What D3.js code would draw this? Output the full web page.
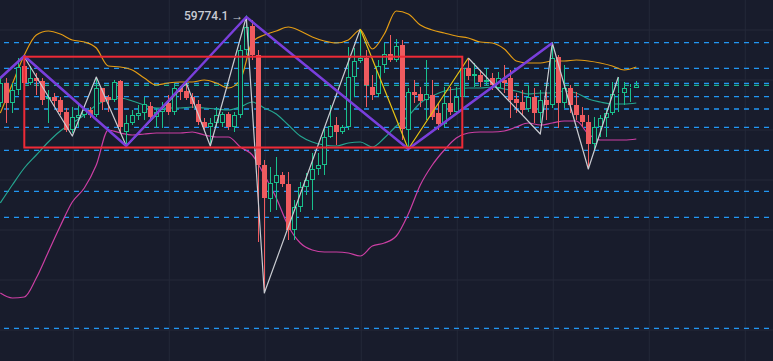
<!DOCTYPE html>
<html><head><meta charset="utf-8">
<script src="https://cdn.jsdelivr.net/npm/d3@7"></script>
<style>html,body{margin:0;padding:0;background:#181c2c;overflow:hidden}svg{display:block}</style>
</head><body><svg id="c" width="773" height="361"></svg>
<script>
// ---- candle data (index = bar number) ----
const opens  = [58020,58420,58020,58280,58760,58420,58520,58460,58100,58140,58080,57840,57480,57720,57780,57880,57780,58320,58140,58080,58460,57440,57620,57760,57820,57960,57740,57840,58020,57840,58320,58260,58140,58000,57640,57540,57620,57620,57800,57540,57780,59080,59560,58980,56780,56100,56420,56580,56400,55480,55940,56340,56480,56700,56780,57340,57580,57440,57540,58540,58860,58920,58340,58200,58780,59000,58880,59180,57480,58240,58200,58080,58180,57820,57600,58020,57840,58140,58720,58560,58580,58440,58520,58320,58480,58520,58100,58040,57900,58140,57820,58080,57980,58940,58020,58320,57980,57780,57640,57200,57540,57720,57820,58200,58220,58320,58320];
const highs  = [58540,58520,58420,58920,58960,58760,58620,58520,58280,58220,58140,57920,57940,58020,57980,57940,58540,58320,58180,58480,58480,57780,57880,57980,58140,58040,57920,58040,58180,58420,58360,58420,58220,58080,57720,57720,57940,57840,57840,57840,59180,59774.1,59680,59080,56880,56740,56940,56640,56640,56080,56440,56620,57020,57020,57540,57980,57740,57580,59140,59120,59500,59080,58580,58880,59220,59380,59300,59280,58320,58480,58340,58880,58480,58020,58340,58340,58340,58920,58920,58820,58680,58720,58620,58640,58780,58680,58220,58280,58380,58320,58280,58240,59240,58980,58780,58380,58240,57940,57780,57740,57780,57920,58440,58540,58440,58400,58460];
const lows   = [57940,57620,57820,58180,58380,58380,58180,57980,57620,57940,57780,57440,57420,57540,57720,57720,57740,57880,57840,58040,57420,57160,57580,57680,57680,57680,57520,57520,57780,57780,58080,58080,57920,57580,57480,57160,57540,57540,57480,57440,57720,58980,58880,55240,54220,55840,55880,56340,55280,55280,55840,56180,55880,56580,56580,57320,57180,57400,57480,58140,58820,57940,58080,58140,58620,58840,58840,57280,57100,58020,57940,57680,57680,57480,57540,57780,57780,58080,58480,58340,58340,58380,58280,58280,58220,57720,57820,57780,57840,57620,57620,57680,57920,57520,57920,57820,57680,57540,56720,57080,57340,57340,57780,57840,57980,58040,58320];
const closes = [58420,58020,58280,58740,58420,58520,58460,58080,58140,58060,57840,57480,57740,57780,57880,57780,58320,58040,58080,58440,57540,57620,57780,57820,58000,57740,57840,57900,57840,58320,58240,58120,58000,57640,57540,57620,57780,57800,57540,57780,59080,59540,58980,56780,56120,56420,56580,56400,55480,55940,56340,56480,56700,56780,57340,57560,57440,57540,58540,58860,58920,58380,58180,58760,59000,58880,59160,57500,58240,58180,58060,58200,57740,57600,58020,57840,58140,58720,58560,58600,58440,58480,58380,58520,58420,58080,58020,57880,58140,57820,58080,57980,58920,58020,58320,57980,57780,57640,57200,57540,57720,57820,58200,58220,58320,58340,58380];

// ---- Bollinger bands, read every 2 bars ----
const bbIndex  = [0,2,4,6,8,10,12,14,16,18,20,22,24,26,28,30,32,34,36,38,40,42,44,46,48,50,52,54,56,58,60,62,64,66,68,70,72,74,76,78,80,82,84,86,88,90,92,94,96,98,100,102,104,106];
const bbUpper  = [57820,58400,58980,59380,59460,59400,59280,59240,59120,58760,58740,58680,58520,58380,58420,58440,58440,58480,58420,58320,58480,59240,59380,59460,59540,59460,59340,59260,59220,59280,59480,59100,59400,59860,59800,59580,59480,59420,59360,59320,59240,59220,59100,58860,58820,58820,58860,58860,58880,58860,58820,58760,58680,58740];
const bbMiddle = [56020,56380,56720,56980,57240,57460,57620,57780,57980,58080,58120,58060,57980,57920,57920,57920,57940,57920,57900,57880,57940,58040,57920,57800,57580,57360,57240,57180,57160,57220,57240,57140,57320,57560,57760,58020,58160,58260,58300,58320,58320,58340,58300,58260,58200,58220,58220,58260,58220,58100,58040,58000,58000,58020];
const bbLower  = [54220,54120,54140,54520,55040,55560,56040,56320,56780,57480,57420,57380,57400,57420,57420,57420,57440,57380,57340,57340,57140,56980,56580,56120,55560,55220,55080,55040,55040,55020,54960,55160,55220,55360,55800,56380,56780,57080,57320,57420,57440,57440,57460,57540,57620,57580,57620,57660,57660,57400,57280,57280,57280,57300];

// ---- grid / levels ----
const gridPrices = [59500,58500,57500,56500,55500,54500,53500];
const gridIndex  = [12,28,44,60,76,92,108,124];
const blueLevels = [59226,58714,58414,58146,57900,57534,57074,56254,55734,53514];
const tealLevels = [58374];

// ---- zigzags ----
const purpleIdx   = [0,4,21,41,68,92];
const purplePrice = [58520,58960,57160,59740,57100,59220];
const grayAIdx    = [4,12,16,21,31,35,41,44,60];
const grayAPrice  = [58940,57360,58540,57160,58420,57160,59740,54220,59500];
const yellowIdx   = [60,68,78];
const yellowPrice = [59500,57100,58920];
const grayBIdx    = [78,90,92,98,103];
const grayBPrice  = [58920,57400,59220,56700,58540];

// ---- range box ----
const boxIdx   = [4,77];
const boxPrice = [58946,57130];
const peakText = "59774.1 →";

const W = 773, H = 361;
const svg = d3.select("#c");
svg.append("rect").attr("width",W).attr("height",H).attr("fill","#181c2c");

const x = d3.scaleLinear().domain([0,1]).range([0.3,6.3]);
const y = d3.scaleLinear().domain([52860,60080]).range([H,0]);

// grid via axes
const gy = svg.append("g").attr("transform","translate(0,0.5)")
  .call(d3.axisRight(y).tickValues(gridPrices).tickSize(W).tickFormat(""));
const gx = svg.append("g").attr("transform","translate(0.5,0)")
  .call(d3.axisBottom(x).tickValues(gridIndex).tickSize(H).tickFormat(""));
[gy,gx].forEach(g=>{g.select(".domain").remove(); g.selectAll("line").attr("stroke","#242939").attr("stroke-width",1);});

// dashed levels
svg.append("g").selectAll("line").data(blueLevels).join("line")
  .attr("x1",4).attr("x2",W).attr("y1",d=>y(d)).attr("y2",d=>y(d))
  .attr("stroke","#2196f3").attr("stroke-width",1.3).attr("stroke-dasharray","5 5");
svg.append("g").selectAll("line").data(tealLevels).join("line")
  .attr("x1",4).attr("x2",W).attr("y1",d=>y(d)).attr("y2",d=>y(d))
  .attr("stroke","#1fb38e").attr("stroke-width",1.3).attr("stroke-dasharray","5 5");

// bollinger
const band = arr => d3.line().x((d,i)=>x(bbIndex[i])).y(d=>y(d)).curve(d3.curveMonotoneX)(arr);
[[bbUpper,"#e39c14"],[bbMiddle,"#25a48f"],[bbLower,"#cc3fa4"]].forEach(([a,c])=>{
  svg.append("path").attr("d",band(a)).attr("fill","none").attr("stroke",c).attr("stroke-width",1.2);
});

// candles
const up = "#19c08c", dn = "#ef5b5f";
const cg = svg.append("g");
opens.forEach((o,i)=>{
  const c = closes[i], h = highs[i], l = lows[i];
  const cx = Math.round(x(i));
  const isUp = c >= o;
  const col = isUp ? up : dn;
  const top = Math.round(y(Math.max(o,c))), bot = Math.round(y(Math.min(o,c)));
  const bh = Math.max(1, bot-top);
  const wx = cx + 0.5;
  if (isUp) {
    cg.append("line").attr("x1",wx).attr("x2",wx).attr("y1",y(h)).attr("y2",top).attr("stroke",col);
    cg.append("line").attr("x1",wx).attr("x2",wx).attr("y1",top+bh).attr("y2",y(l)).attr("stroke",col);
    cg.append("rect").attr("x",cx-1.5).attr("y",top+0.5).attr("width",4).attr("height",Math.max(0,bh-1))
      .attr("fill","#181c2c").attr("stroke",col).attr("stroke-width",1);
  } else {
    cg.append("line").attr("x1",wx).attr("x2",wx).attr("y1",y(h)).attr("y2",y(l)).attr("stroke",col);
    cg.append("rect").attr("x",cx-2).attr("y",top).attr("width",5).attr("height",bh).attr("fill",col);
  }
});

// zigzags
const zz = (idx,pr,col,w) => svg.append("path")
  .attr("d", d3.line().x(d=>x(d[0])).y(d=>y(d[1]))(idx.map((k,i)=>[k,pr[i]])))
  .attr("fill","none").attr("stroke",col).attr("stroke-width",w).attr("stroke-linejoin","round");
zz(grayAIdx,grayAPrice,"#c9cbd1",1.2);
zz(yellowIdx,yellowPrice,"#e6c313",1.2);
zz(grayBIdx,grayBPrice,"#c9cbd1",1.2);
zz(purpleIdx,purplePrice,"#7a3fdc",2.5);

// box
svg.append("rect")
  .attr("x",x(boxIdx[0])).attr("y",y(boxPrice[0]))
  .attr("width",x(boxIdx[1])-x(boxIdx[0])).attr("height",y(boxPrice[1])-y(boxPrice[0]))
  .attr("fill","none").attr("stroke","#ee2a36").attr("stroke-width",2);

// peak label
const pk = d3.maxIndex(highs);
svg.append("text").attr("x",x(pk)-3).attr("y",y(highs[pk])+1.5)
  .attr("text-anchor","end").attr("dominant-baseline","middle")
  .attr("font-family","Roboto, 'Noto Sans', sans-serif").attr("font-size",12).attr("font-weight",500)
  .attr("fill","#c8cbd4").text(peakText);
</script></body></html>
